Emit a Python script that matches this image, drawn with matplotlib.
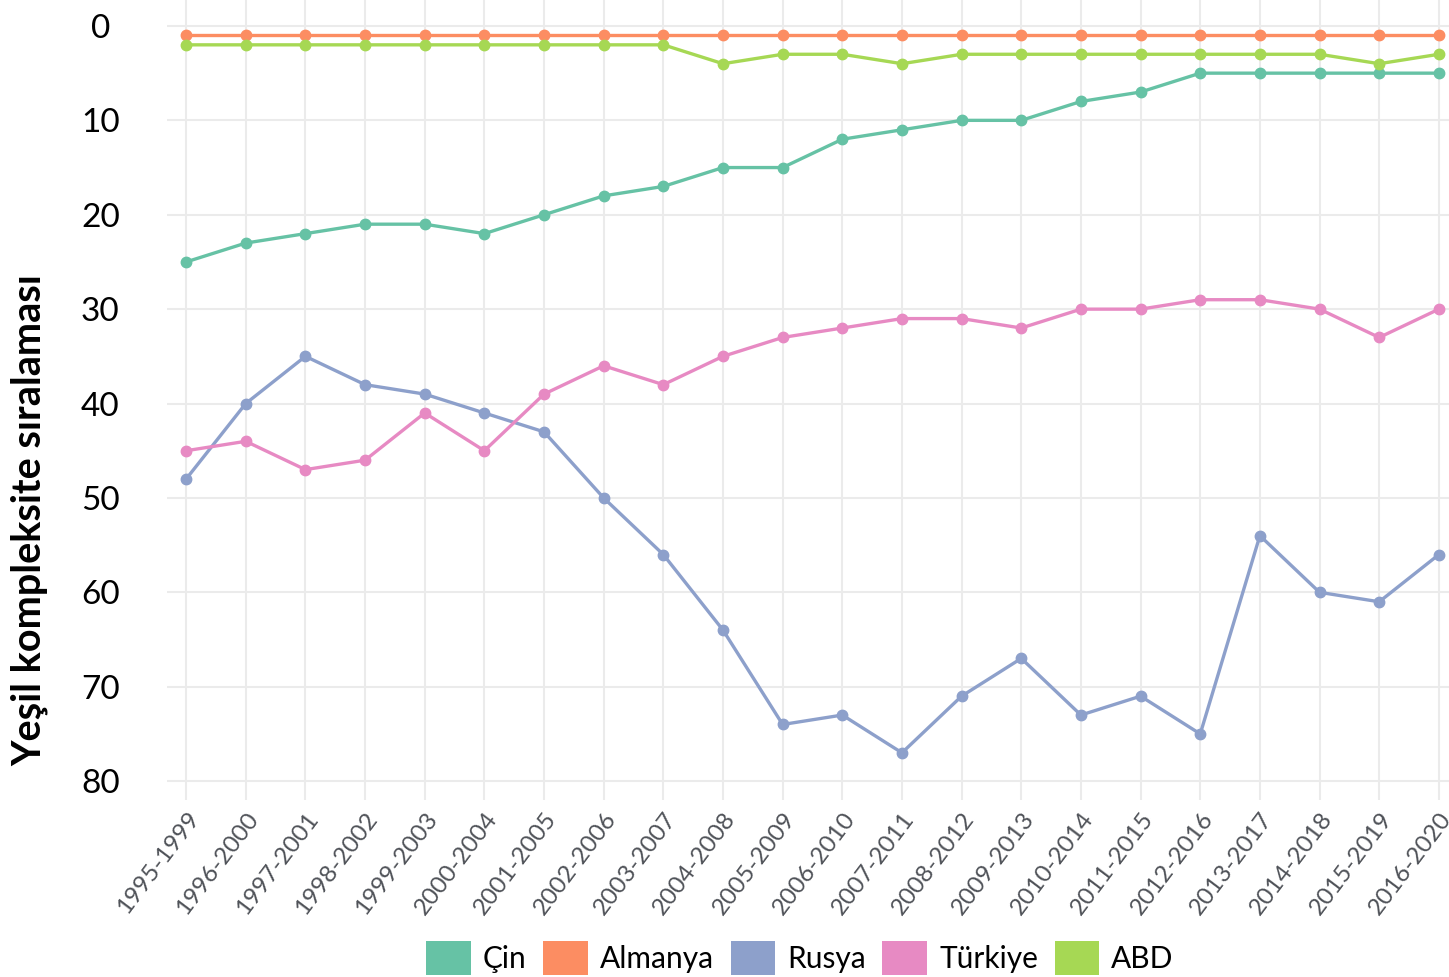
import matplotlib
matplotlib.use("Agg")
import matplotlib.pyplot as plt
from matplotlib.patches import Patch

periods = ["1995-1999", "1996-2000", "1997-2001", "1998-2002", "1999-2003", "2000-2004",
           "2001-2005", "2002-2006", "2003-2007", "2004-2008", "2005-2009", "2006-2010",
           "2007-2011", "2008-2012", "2009-2013", "2010-2014", "2011-2015", "2012-2016",
           "2013-2017", "2014-2018", "2015-2019", "2016-2020"]

cin = [25, 23, 22, 21, 21, 22, 20, 18, 17, 15, 15, 12, 11, 10, 10, 8, 7, 5, 5, 5, 5, 5]
almanya = [1] * 22
rusya = [48, 40, 35, 38, 39, 41, 43, 50, 56, 64, 74, 73, 77, 71, 67, 73, 71, 75, 54, 60, 61, 56]
turkiye = [45, 44, 47, 46, 41, 45, 39, 36, 38, 35, 33, 32, 31, 31, 32, 30, 30, 29, 29, 30, 33, 30]
abd = [2, 2, 2, 2, 2, 2, 2, 2, 2, 4, 3, 3, 4, 3, 3, 3, 3, 3, 3, 3, 4, 3]

series_names = ["Çin", "Almanya", "Rusya", "Türkiye", "ABD"]
series_values = [cin, almanya, rusya, turkiye, abd]
colors = ["#66c2a5", "#fc8d62", "#8da0cb", "#e78ac3", "#a6d854"]

yticks = [0, 10, 20, 30, 40, 50, 60, 70, 80]

plt.rcParams['font.family'] = ['Lato', 'DejaVu Sans']

W, H = 1449, 977
fig = plt.figure(figsize=(W / 100, H / 100), dpi=100)
ax = fig.add_axes([167 / W, 1 - 800 / H, 1 - 167 / W, 800 / H])

x = list(range(len(periods)))
for name, vals, c in zip(series_names, series_values, colors):
    ax.plot(x, vals, color=c, lw=2.4, marker="o", ms=7.5, label=name, zorder=3)

ax.set_xlim(-0.32, 21.17)
ax.set_ylim(82.0, -2.75)
ax.set_xticks(x)
ax.set_xticklabels(periods, rotation=53, ha="right", va="top",
                   rotation_mode="anchor", fontsize=17.5, color="#4f5258")
ax.set_yticks(yticks)
ax.set_yticklabels([str(v) for v in yticks], fontsize=24, color="black")
for lab in ax.get_yticklabels():
    lab.set_ha("center")
ax.tick_params(axis="y", length=0, pad=48)
ax.tick_params(axis="x", length=0, pad=6)

for s in ax.spines.values():
    s.set_visible(False)
ax.grid(True, color="#ebebeb", lw=1.5, zorder=0)
ax.set_axisbelow(True)

fig.text(30 / W, 1 - 520 / H, "Yeşil kompleksite sıralaması", rotation=90,
         ha="center", va="center", fontsize=28.5, fontweight="bold")

handles = [Patch(facecolor=c, edgecolor="none") for c in colors]
fig.legend(handles, series_names, loc="center", bbox_to_anchor=(800 / W, 1 - 958 / H),
           ncol=5, frameon=False, fontsize=21.5, handlelength=1.5, handleheight=1.37,
           handletextpad=0.4, columnspacing=0.55, borderpad=0)

fig.savefig("out.png", dpi=100)
